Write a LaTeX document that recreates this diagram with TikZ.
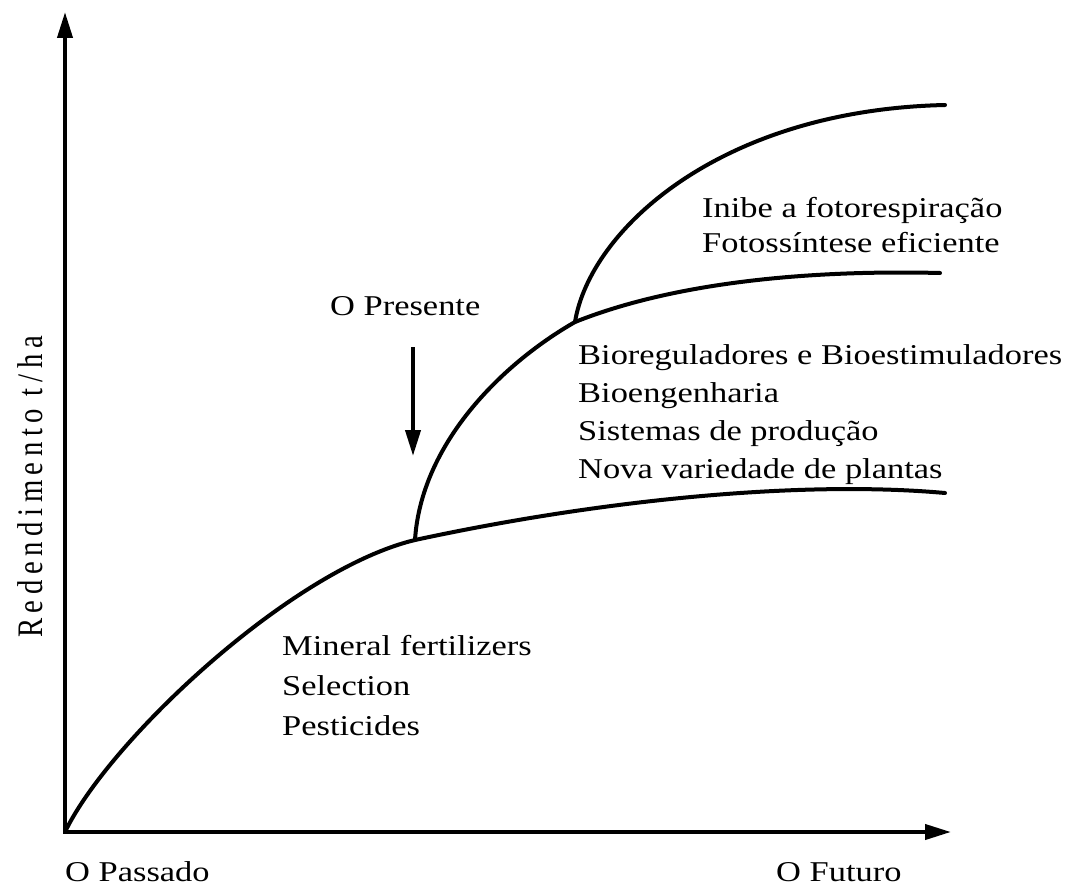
\documentclass[tikz,border=0pt]{standalone}
\usepackage{fontspec}
\usepackage{graphicx}
\setmainfont{Liberation Serif}[FakeStretch=1.2]
\newfontfamily\ylabfont{Liberation Serif}[LetterSpace=19.5]
\usetikzlibrary{arrows.meta}
\begin{document}
\begin{tikzpicture}[x=1pt,y=-1pt,
  thick line/.style={line width=4pt},
  curve/.style={line width=4pt, line cap=round},
  arr/.style={-{Triangle[length=26pt,width=15pt]}},
  lbl/.style={anchor=base west, inner sep=0pt, font=\fontsize{28.7}{34}\selectfont}]
\useasboundingbox (0,0) rectangle (1067,888);
% axes
\coordinate (o) at (65,832);
\coordinate (ytip) at (65,12);
\coordinate (xtip) at (951,832);
\draw[thick line, {Triangle[length=26pt,width=15pt]}-{Triangle[length=26pt,width=15pt]}, line join=miter] (ytip) -- (o) -- (xtip);
% junctions and ends
\coordinate (j1) at (415,540);
\coordinate (j2) at (575,322);
\coordinate (e1) at (945,493);
\coordinate (e2) at (940,273);
\coordinate (e3) at (945,105);
\draw[curve] (o) .. controls (108,742) and (290,570) .. (j1)
             .. controls (600,500) and (800,480) .. (e1);
\draw[curve] (j1) .. controls (421,445) and (500,365) .. (j2)
             .. controls (680,280) and (820,270) .. (e2);
\draw[curve] (j2) .. controls (590,230) and (720,110) .. (e3);
% present arrow
\coordinate (pa) at (413,347);
\coordinate (pb) at (413,456);
\draw[thick line, arr] (pa) -- (pb);
% labels
\node[lbl] (pres) at (330,315) {O Presente};
\node[lbl] (t1) at (702,217) {Inibe a fotorespiração};
\node[lbl] (t2) at (702,252) {Fotossíntese eficiente};
\node[lbl] (b1) at (578,364) {Bioreguladores e Bioestimuladores};
\node[lbl] (b2) at (578,402) {Bioengenharia};
\node[lbl] (b3) at (578,440) {Sistemas de produção};
\node[lbl] (b4) at (578,478) {Nova variedade de plantas};
\node[lbl] (m1) at (282,655) {Mineral fertilizers};
\node[lbl] (m2) at (282,695) {Selection};
\node[lbl] (m3) at (282,735) {Pesticides};
\node[lbl, text depth=0pt] (past) at (65,881) {O Passado};
\node[lbl, text depth=0pt] (fut) at (776,881) {O Futuro};
\node[inner sep=0pt, rotate=90] (ylab) at (30,487) {\scalebox{1}[1.25]{\ylabfont\fontsize{28.7}{34}\selectfont Redendimento t/ha}};
\end{tikzpicture}
\end{document}
